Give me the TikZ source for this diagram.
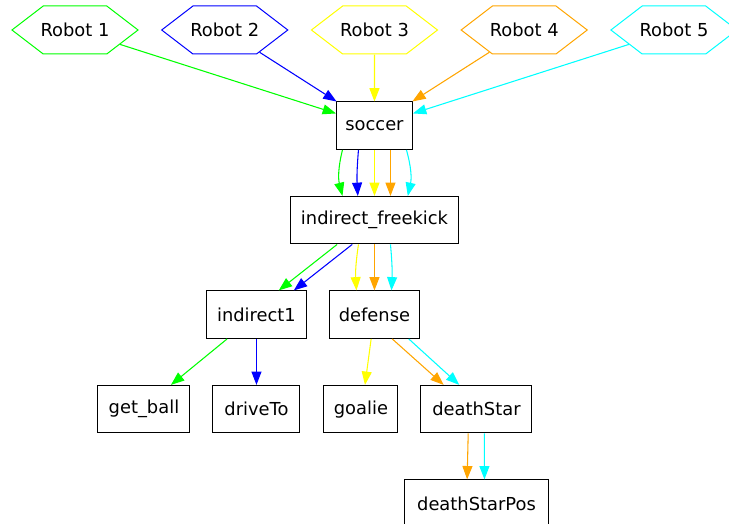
\documentclass[tikz,border=0pt]{standalone}
\usepackage{fontspec}
\setmainfont{DejaVu Sans}
\usepackage{tikz}
\usetikzlibrary{arrows.meta,positioning,shapes.symbols}
\definecolor{botgreen}{HTML}{00FF00}
\definecolor{botblue}{HTML}{0000FF}
\definecolor{botyellow}{HTML}{FFFF00}
\definecolor{botorange}{HTML}{FFA500}
\definecolor{botcyan}{HTML}{00FFFF}

\begin{document}
\begin{tikzpicture}[
  robot/.style={draw, shape=signal, signal to=west and east, signal pointer angle=75, minimum height=36pt, inner xsep=-2pt, inner ysep=2pt, line width=0.75pt, font=\fontsize{13.4}{16}\selectfont},
  task/.style={draw, minimum height=35.6pt, inner xsep=4pt, line width=0.75pt, font=\fontsize{13.4}{16}\selectfont},
  arr/.style={-{Triangle[length=10pt, width=7.5pt]}, line width=0.8pt}
]
  \useasboundingbox (-56.25pt,22.5pt) rectangle (490.5pt,-370.5pt);

  \node[robot, botgreen] (r1) at (0,0) {\textcolor{black}{Robot 1}};
  \node[robot, botblue, right=16.5pt of r1] (r2) {\textcolor{black}{Robot 2}};
  \node[robot, botyellow, right=16.5pt of r2] (r3) {\textcolor{black}{Robot 3}};
  \node[robot, botorange, right=16.5pt of r3] (r4) {\textcolor{black}{Robot 4}};
  \node[robot, botcyan, right=16.5pt of r4] (r5) {\textcolor{black}{Robot 5}};

  \node[task, minimum width=57pt, below=35.25pt of r3] (soccer) {soccer};
  \node[task, minimum width=126pt, below=34.5pt of soccer] (kick) {indirect\_freekick};
  \node[task, minimum width=67.5pt, below=34.5pt of kick] (defense) {defense};
  \node[task, minimum width=75pt, left=16.5pt of defense] (ind1) {indirect1};
  \node[task, minimum width=65.25pt, below=34.5pt of ind1] (drive) {driveTo};
  \node[task, minimum width=69pt, left=16.5pt of drive] (getball) {get\_ball};
  \node[task, minimum width=55.5pt, right=17.25pt of drive] (goalie) {goalie};
  \node[task, minimum width=83.25pt, right=16.5pt of goalie] (dstar) {deathStar};
  \node[task, minimum width=108pt, below=34.5pt of dstar] (dspos) {deathStarPos};

  \draw[arr, botgreen] (r1) -- (soccer);
  \draw[arr, botblue] (r2) -- (soccer);
  \draw[arr, botyellow] (r3) -- (soccer);
  \draw[arr, botorange] (r4) -- (soccer);
  \draw[arr, botcyan] (r5) -- (soccer);

  \draw[arr, botgreen] ([xshift=-24pt]soccer.south) to[bend right=14] ([xshift=-24pt]kick.north);
  \draw[arr, botblue] ([xshift=-12pt]soccer.south) to[bend right=4] ([xshift=-12.5pt]kick.north);
  \draw[arr, botyellow] (soccer) -- (kick);
  \draw[arr, botorange] ([xshift=12pt]soccer.south) -- ([xshift=12pt]kick.north);
  \draw[arr, botcyan] ([xshift=24pt]soccer.south) to[bend left=14] ([xshift=25pt]kick.north);

  \draw[arr, botgreen] ([xshift=-28pt]kick.south) -- ([xshift=16.7pt]ind1.north);
  \draw[arr, botblue] ([xshift=-16.7pt]kick.south) -- ([xshift=28pt]ind1.north);
  \draw[arr, botyellow] ([xshift=-12pt]kick.south) to[bend right=6] ([xshift=-13.5pt]defense.north);
  \draw[arr, botorange] (kick) -- (defense);
  \draw[arr, botcyan] ([xshift=12pt]kick.south) to[bend left=4] ([xshift=12.75pt]defense.north);

  \draw[arr, botgreen] ([xshift=-22pt]ind1.south) -- ([xshift=20.25pt]getball.north);
  \draw[arr, botblue] (ind1) -- (drive);
  \draw[arr, botyellow] ([xshift=-2.5pt]defense.south) -- ([xshift=3pt]goalie.north);
  \draw[arr, botorange] ([xshift=13.3pt]defense.south) -- ([xshift=-24.6pt]dstar.north);
  \draw[arr, botcyan] ([xshift=25.7pt]defense.south) -- ([xshift=-12.9pt]dstar.north);

  \draw[arr, botorange] ([xshift=-6.2pt]dstar.south) -- ([xshift=-7pt]dspos.north);
  \draw[arr, botcyan] ([xshift=5.9pt]dstar.south) -- ([xshift=6pt]dspos.north);
\end{tikzpicture}
\end{document}
